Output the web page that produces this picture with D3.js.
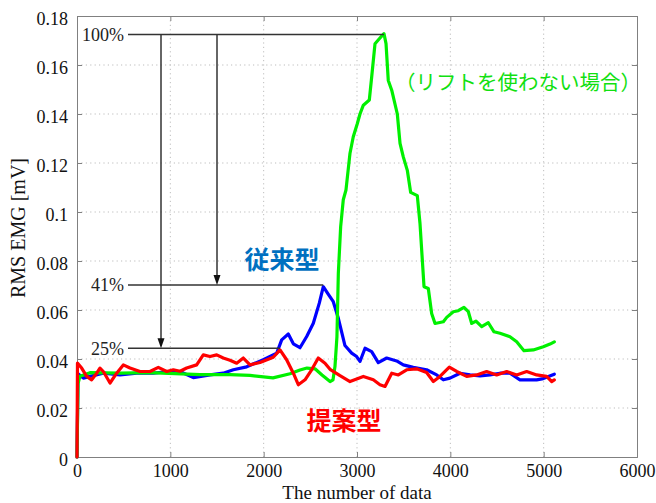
<!DOCTYPE html>
<html>
<head>
<meta charset="utf-8">
<script src="https://cdn.jsdelivr.net/npm/d3@7"></script>
<style>
  html, body { margin: 0; padding: 0; background: #fff; }
  svg { display: block; }
</style>
</head>
<body>
<div id="chart"></div>
<script>
// ---- data ----
const xTicks = [0, 1000, 2000, 3000, 4000, 5000, 6000];
const yTicks = [0, 0.02, 0.04, 0.06, 0.08, 0.1, 0.12, 0.14, 0.16, 0.18];
const yTickLabels = ["0", "0.02", "0.04", "0.06", "0.08", "0.1", "0.12", "0.14", "0.16", "0.18"];

// without lift (green)
const noLiftX = [0, 11, 32, 139, 461, 782, 1318, 1639, 1854, 2100, 2282, 2389, 2464, 2550, 2625, 2711, 2743, 2764, 2785, 2800, 2825, 2853, 2882, 2925, 2960, 3003, 3032, 3068, 3132, 3157, 3193, 3246, 3289, 3311, 3335, 3372, 3432, 3461, 3496, 3539, 3575, 3646, 3675, 3718, 3764, 3800, 3836, 3925, 3961, 4032, 4085, 4146, 4193, 4229, 4275, 4336, 4407, 4468, 4532, 4639, 4711, 4789, 4889, 4996, 5068, 5114];
const noLiftY = [0, 0.030, 0.033, 0.0344, 0.0342, 0.0344, 0.0336, 0.0336, 0.0333, 0.0323, 0.034, 0.0355, 0.0363, 0.036, 0.0335, 0.0308, 0.0315, 0.0369, 0.049, 0.075, 0.094, 0.105, 0.109, 0.124, 0.1307, 0.136, 0.140, 0.1436, 0.1457, 0.155, 0.1687, 0.171, 0.1728, 0.1687, 0.1537, 0.1497, 0.140, 0.128, 0.1225, 0.117, 0.108, 0.1067, 0.0953, 0.0695, 0.0688, 0.0586, 0.0545, 0.0552, 0.057, 0.0593, 0.0597, 0.0611, 0.0593, 0.0545, 0.0555, 0.0532, 0.0548, 0.0511, 0.0505, 0.0491, 0.047, 0.0434, 0.0437, 0.045, 0.0461, 0.047];

// conventional (blue)
const convX = [0, 11, 68, 139, 282, 461, 640, 817, 996, 1104, 1246, 1425, 1567, 1675, 1818, 1996, 2140, 2193, 2264, 2318, 2389, 2461, 2532, 2596, 2639, 2693, 2746, 2800, 2871, 2943, 2996, 3032, 3086, 3157, 3228, 3318, 3425, 3496, 3603, 3746, 3854, 3925, 3996, 4104, 4211, 4318, 4425, 4532, 4639, 4746, 4925, 4996, 5114];
const convY = [0, 0.034, 0.0322, 0.0329, 0.0342, 0.0335, 0.0342, 0.0342, 0.0349, 0.0349, 0.0324, 0.0335, 0.0342, 0.0356, 0.0368, 0.0397, 0.0424, 0.0478, 0.0502, 0.0462, 0.0446, 0.0492, 0.0546, 0.0628, 0.0695, 0.0664, 0.0634, 0.0566, 0.0455, 0.0424, 0.041, 0.039, 0.0444, 0.043, 0.0385, 0.0404, 0.0392, 0.0376, 0.0366, 0.0356, 0.0335, 0.0315, 0.0322, 0.0342, 0.0335, 0.0331, 0.0335, 0.0342, 0.0342, 0.0315, 0.0315, 0.032, 0.0338];

// proposed (red)
const propX = [0, 5, 50, 104, 157, 211, 246, 282, 354, 425, 496, 568, 675, 782, 871, 961, 1032, 1104, 1175, 1282, 1353, 1425, 1497, 1567, 1639, 1711, 1782, 1854, 1961, 2103, 2175, 2246, 2318, 2371, 2443, 2514, 2585, 2657, 2711, 2818, 2925, 3068, 3175, 3246, 3300, 3372, 3443, 3532, 3639, 3746, 3818, 3889, 3989, 4068, 4175, 4282, 4389, 4496, 4604, 4711, 4818, 4925, 5032, 5086, 5114];
const propY = [0, 0.0383, 0.0363, 0.0329, 0.0315, 0.0342, 0.0363, 0.0349, 0.0302, 0.0342, 0.0376, 0.0363, 0.0349, 0.0349, 0.0366, 0.0349, 0.0356, 0.035, 0.0363, 0.0376, 0.0417, 0.041, 0.0417, 0.0404, 0.0395, 0.0383, 0.0404, 0.0376, 0.0386, 0.0407, 0.0437, 0.0397, 0.0342, 0.0295, 0.0315, 0.0356, 0.0404, 0.0383, 0.0358, 0.0332, 0.0308, 0.0329, 0.0315, 0.0295, 0.0288, 0.0342, 0.0335, 0.0356, 0.036, 0.0345, 0.0308, 0.0329, 0.0367, 0.0349, 0.0329, 0.0335, 0.0349, 0.0335, 0.0349, 0.0335, 0.0349, 0.0335, 0.0329, 0.0308, 0.0315];

// annotation levels
const peakNoLift = 0.1725, peakConv = 0.0702, peakProp = 0.0444;
const peakNoLiftX = 3289, peakConvX = 2639, peakPropX = 2175;
const arrowXs = [900, 1500];
const pctLabels = ["100%", "41%", "25%"];

// ---- layout ----
const W = 656, H = 503;
const m = {left: 77, right: 19, top: 16, bottom: 46};
const iw = W - m.left - m.right, ih = H - m.top - m.bottom;

const svg = d3.select("#chart").append("svg").attr("width", W).attr("height", H);
const x = d3.scaleLinear().domain([0, 6000]).range([m.left, m.left + iw]);
const y = d3.scaleLinear().domain([0, 0.18]).range([m.top + ih, m.top]);

const serif = "'Liberation Serif', 'Times New Roman', serif";
const axisCol = "#808080";

// grid
const grid = svg.append("g");
grid.selectAll(".gx").data(xTicks.slice(1, -1)).enter().append("line")
  .attr("x1", d => x(d)).attr("x2", d => x(d)).attr("y1", m.top).attr("y2", m.top + ih)
  .attr("stroke", "#bdbdbd").attr("stroke-width", 1).attr("stroke-dasharray", "1.2,3.2");
grid.selectAll(".gy").data(yTicks.slice(1, -1)).enter().append("line")
  .attr("y1", d => y(d)).attr("y2", d => y(d)).attr("x1", m.left).attr("x2", m.left + iw)
  .attr("stroke", "#bdbdbd").attr("stroke-width", 1).attr("stroke-dasharray", "1.2,3.2");

// axes
const xAxis = d3.axisBottom(x).tickValues(xTicks).tickSize(-5).tickPadding(7).tickFormat(d3.format("d"));
const xAxisTop = d3.axisTop(x).tickValues(xTicks).tickSize(-5).tickFormat("");
const yAxis = d3.axisLeft(y).tickValues(yTicks).tickSize(-5).tickPadding(9).tickFormat((d, i) => yTickLabels[i]);
const yAxisRight = d3.axisRight(y).tickValues(yTicks).tickSize(-5).tickFormat("");

function styleAxis(g) {
  g.selectAll("path").attr("stroke", axisCol);
  g.selectAll("line").attr("stroke", axisCol);
  g.selectAll("text").attr("fill", "#111").style("font-family", serif).style("font-size", "18px");
}
svg.append("g").attr("transform", `translate(0,${m.top + ih})`).call(xAxis).call(styleAxis);
svg.append("g").attr("transform", `translate(0,${m.top})`).call(xAxisTop).call(styleAxis);
svg.append("g").attr("transform", `translate(${m.left},0)`).call(yAxis).call(styleAxis)
  .selectAll("text").attr("dy", "0.45em");
svg.append("g").attr("transform", `translate(${m.left + iw},0)`).call(yAxisRight).call(styleAxis);
svg.selectAll(".domain").attr("stroke", axisCol);

// axis labels
svg.append("text").attr("x", x(3000)).attr("y", 499).attr("text-anchor", "middle")
  .style("font-family", serif).style("font-size", "19px").attr("fill", "#111").text("The number of data");
svg.append("text").attr("transform", "translate(25,228) rotate(-90)").attr("text-anchor", "middle")
  .style("font-family", serif).style("font-size", "20px").attr("fill", "#111").text("RMS EMG [mV]");

// curves
const line = d3.line().x(d => x(d[0])).y(d => y(d[1]));
const series = [
  {xs: convX, ys: convY, color: "#0000ff"},
  {xs: noLiftX, ys: noLiftY, color: "#00f000"},
  {xs: propX, ys: propY, color: "#ff0000"}
];
series.forEach(s => {
  const pts = s.xs.map((v, i) => [v, s.ys[i]]);
  svg.append("path").datum(pts).attr("d", line).attr("fill", "none")
    .attr("stroke", s.color).attr("stroke-width", 3.2).attr("stroke-linejoin", "round").attr("stroke-linecap", "round");
});

// annotations
const annCol = "#333";
const lineStartX = 128;
const levels = [[peakNoLift, peakNoLiftX], [peakConv, peakConvX], [peakProp, peakPropX]];
levels.forEach((l, i) => {
  svg.append("line").attr("x1", lineStartX).attr("x2", x(l[1])).attr("y1", y(l[0])).attr("y2", y(l[0]))
    .attr("stroke", annCol).attr("stroke-width", 1.5);
  svg.append("text").attr("x", lineStartX - 4).attr("y", y(l[0])).attr("dy", "0.35em").attr("text-anchor", "end")
    .style("font-family", serif).style("font-size", "18px").attr("fill", "#222").text(pctLabels[i]);
});
const arrowTargets = [peakProp, peakConv];
arrowXs.forEach((ax, i) => {
  const tipY = y(arrowTargets[i]);
  svg.append("line").attr("x1", x(ax)).attr("x2", x(ax)).attr("y1", y(peakNoLift)).attr("y2", tipY - 8)
    .attr("stroke", annCol).attr("stroke-width", 1.5);
  svg.append("path").attr("d", `M${x(ax)},${tipY} L${x(ax) - 3.5},${tipY - 10} L${x(ax) + 3.5},${tipY - 10} Z`)
    .attr("fill", "#111");
});

// Japanese labels
const jp = "'Noto Sans CJK JP', 'Noto Sans', sans-serif";
svg.append("text").attr("x", 282).attr("y", 269).attr("text-anchor", "middle")
  .style("font-family", jp).style("font-size", "25px").style("font-weight", "bold").attr("fill", "#0070c0").text("従来型");
svg.append("text").attr("x", 344).attr("y", 430).attr("text-anchor", "middle")
  .style("font-family", jp).style("font-size", "25px").style("font-weight", "bold").attr("fill", "#ff0000").text("提案型");
svg.append("text").attr("x", 518).attr("y", 90).attr("text-anchor", "middle")
  .style("font-family", jp).style("font-size", "20.5px").attr("fill", "#11e011").text("（リフトを使わない場合）");
</script>
</body>
</html>
